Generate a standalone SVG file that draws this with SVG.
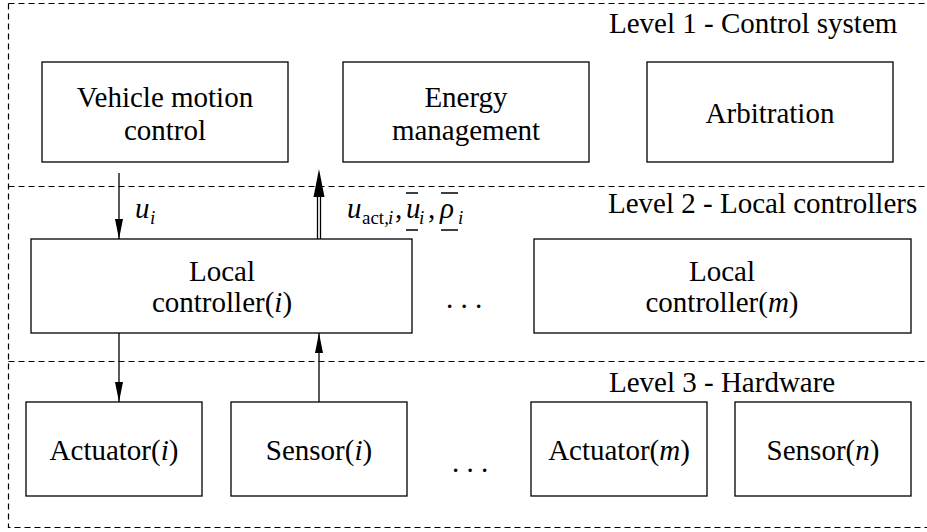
<svg xmlns="http://www.w3.org/2000/svg" width="927" height="532" viewBox="0 0 927 532">
<style>
.box{fill:#fff;stroke:#000;stroke-width:1.3}
.dash{fill:none;stroke:#000;stroke-width:1.2;stroke-dasharray:6 4}
.ln{stroke:#000;stroke-width:1.3;fill:none}
</style>
<defs>
<marker id="ah" markerWidth="20" markerHeight="8" refX="20" refY="4" orient="auto-start-reverse" markerUnits="userSpaceOnUse" viewBox="0 0 20 8">
<path d="M0,0 L20,4 L0,8 Z" fill="#000"/>
</marker>
</defs>
<rect x="0" y="0" width="927" height="532" fill="#fff"/>
<g id="levels">
<path class="dash" d="M8.5,3.5 H927 M8.5,3.5 V527.5 H927 M8.5,186.5 H927 M8.5,361.5 H927"/>
<text x="609" y="33" font-family="Times New Roman" font-size="29">Level 1 - Control system</text>
<text x="608" y="213" font-family="Times New Roman" font-size="29">Level 2 - Local controllers</text>
<text x="609" y="392" font-family="Times New Roman" font-size="29">Level 3 - Hardware</text>
</g>
<g id="vmc"><rect class="box" x="42" y="62" width="246" height="100"/><text x="165" y="107" text-anchor="middle" font-family="Times New Roman" font-size="29">Vehicle motion</text><text x="165" y="140" text-anchor="middle" font-family="Times New Roman" font-size="29">control</text></g>
<g id="em"><rect class="box" x="343" y="62" width="246" height="100"/><text x="466" y="107" text-anchor="middle" font-family="Times New Roman" font-size="29">Energy</text><text x="466" y="140" text-anchor="middle" font-family="Times New Roman" font-size="29">management</text></g>
<g id="arb"><rect class="box" x="647" y="62" width="246" height="100"/><text x="770" y="123" text-anchor="middle" font-family="Times New Roman" font-size="29">Arbitration</text></g>
<g id="lci"><rect class="box" x="31" y="239" width="381" height="94"/><text x="222" y="281" text-anchor="middle" font-family="Times New Roman" font-size="29">Local</text><text x="222" y="312" text-anchor="middle" font-family="Times New Roman" font-size="29">controller(<tspan font-style="italic">i</tspan>)</text></g>
<g id="lcm"><rect class="box" x="534" y="239" width="377" height="94"/><text x="722" y="281" text-anchor="middle" font-family="Times New Roman" font-size="29">Local</text><text x="722" y="312" text-anchor="middle" font-family="Times New Roman" font-size="29">controller(<tspan font-style="italic">m</tspan>)</text></g>
<g id="acti"><rect class="box" x="26" y="402" width="176" height="94"/><text x="114" y="460" text-anchor="middle" font-family="Times New Roman" font-size="29">Actuator(<tspan font-style="italic">i</tspan>)</text></g>
<g id="seni"><rect class="box" x="231" y="402" width="176" height="94"/><text x="319" y="460" text-anchor="middle" font-family="Times New Roman" font-size="29">Sensor(<tspan font-style="italic">i</tspan>)</text></g>
<g id="actm"><rect class="box" x="531" y="402" width="176" height="94"/><text x="619" y="460" text-anchor="middle" font-family="Times New Roman" font-size="29">Actuator(<tspan font-style="italic">m</tspan>)</text></g>
<g id="senn"><rect class="box" x="735" y="402" width="176" height="94"/><text x="823" y="460" text-anchor="middle" font-family="Times New Roman" font-size="29">Sensor(<tspan font-style="italic">n</tspan>)</text></g>
<g id="dots">
<text x="446" y="308" font-family="Times New Roman" font-size="29">.  .  .</text>
<text x="452" y="472" font-family="Times New Roman" font-size="29">.  .  .</text>
</g>
<g id="connectors">
<line class="ln" x1="119" y1="173" x2="119" y2="239" marker-end="url(#ah)"/>
<line class="ln" x1="317.5" y1="239" x2="317.5" y2="195"/>
<line class="ln" x1="320.5" y1="239" x2="320.5" y2="195"/>
<path d="M313.5,197 L324.5,197 L319,169 Z" fill="#000"/>
<line class="ln" x1="119" y1="333" x2="119" y2="402" marker-end="url(#ah)"/>
<line class="ln" x1="319" y1="402" x2="319" y2="333" marker-end="url(#ah)"/>
</g>
<g id="labels">
<text x="135" y="218" font-family="Times New Roman" font-size="29" font-style="italic">u</text>
<text x="150" y="224" font-family="Times New Roman" font-size="19" font-style="italic">i</text>
<text x="347" y="218" font-family="Times New Roman" font-size="29" font-style="italic">u</text>
<text x="362" y="224" font-family="Times New Roman" font-size="19">act,</text>
<text x="388" y="224" font-family="Times New Roman" font-size="19" font-style="italic">i</text>
<text x="395" y="218" font-family="Times New Roman" font-size="29">,</text>
<text x="406" y="218" font-family="Times New Roman" font-size="29" font-style="italic">u</text>
<text x="419" y="224" font-family="Times New Roman" font-size="19" font-style="italic">i</text>
<text x="428" y="218" font-family="Times New Roman" font-size="29">,</text>
<text x="440" y="218" font-family="Times New Roman" font-size="29" font-style="italic">ρ</text>
<text x="458" y="224" font-family="Times New Roman" font-size="19" font-style="italic">i</text>
<path class="ln" d="M406,193 H418 M406,230 H418 M441,193 H458 M441,230 H458" stroke-width="1.2"/>
</g>
</svg>
